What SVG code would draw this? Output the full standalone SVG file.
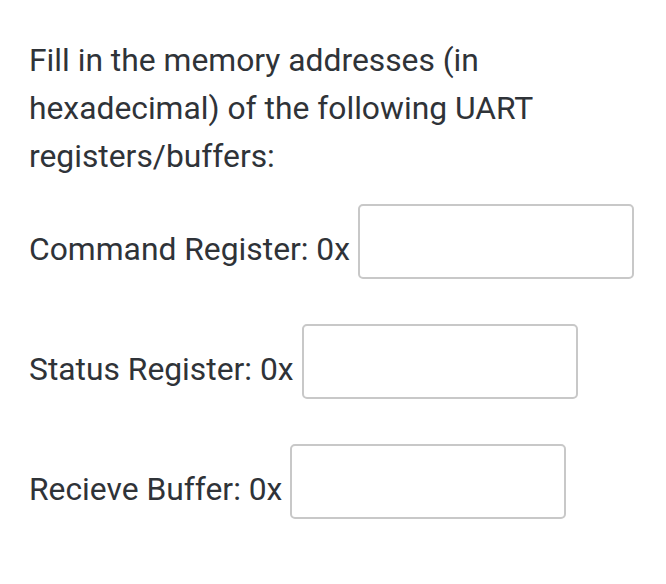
<svg xmlns="http://www.w3.org/2000/svg" width="666" height="584" viewBox="0 0 666 584">
<style>
text{font-family:Roboto,"Liberation Sans",sans-serif;font-size:31.8px;fill:#2f3338}
.box{fill:#fff;stroke:#c8c8c8;stroke-width:2}
</style>
<rect width="666" height="584" fill="#fff"/>
<g id="question">
<text x="29" y="71">Fill in the memory addresses (in</text>
<text x="29" y="119">hexadecimal) of the following UART</text>
<text x="29" y="167">registers/buffers:</text>
</g>
<g id="command">
<text x="29" y="260">Command Register: 0x</text>
<rect class="box" x="359" y="205" width="274" height="73" rx="4"/>
</g>
<g id="status">
<text x="29" y="380">Status Register: 0x</text>
<rect class="box" x="303" y="325" width="274" height="73" rx="4"/>
</g>
<g id="receive">
<text x="29" y="500">Recieve Buffer: 0x</text>
<rect class="box" x="291" y="445" width="274" height="73" rx="4"/>
</g>
<g id="connectors"/>
</svg>
